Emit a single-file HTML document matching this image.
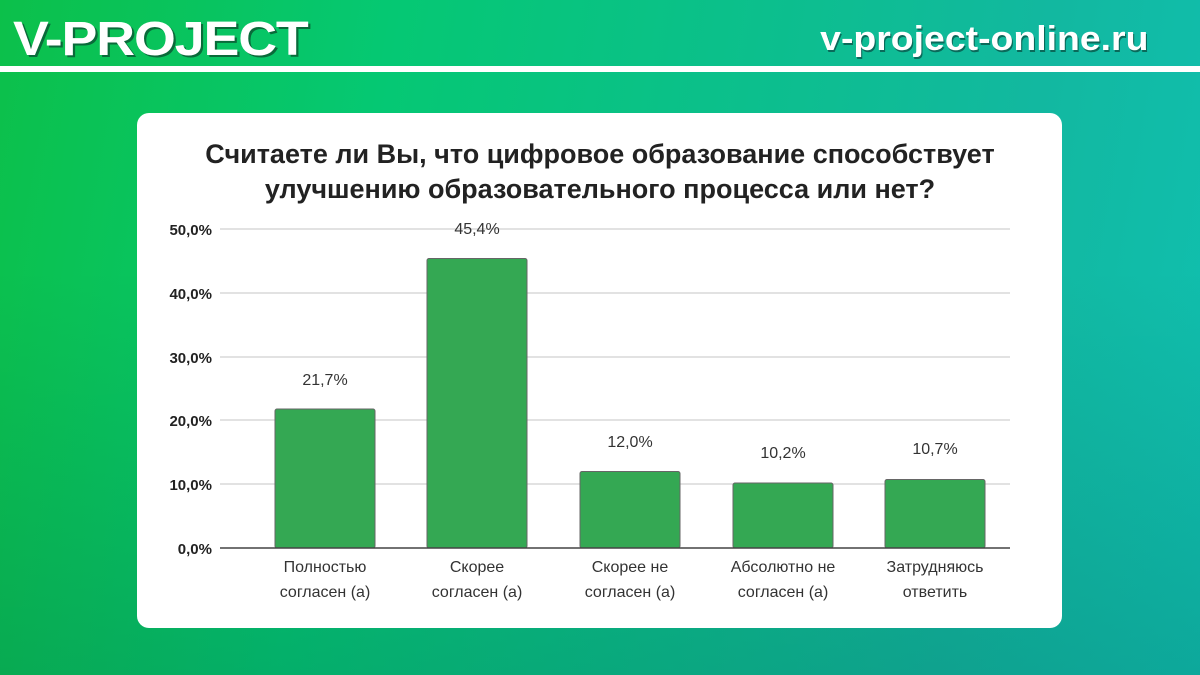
<!DOCTYPE html>
<html><head><meta charset="utf-8"><style>
body{margin:0;width:1200px;height:675px;overflow:hidden;font-family:"Liberation Sans","DejaVu Sans",sans-serif;}
.bg{position:absolute;inset:0;background:linear-gradient(100deg,#0cc04a 0%,#05c873 30%,#0bc08a 55%,#12b8a0 80%,#10c0b0 100%);}
.bg2{position:absolute;inset:0;background:linear-gradient(180deg,rgba(0,0,0,0) 40%,rgba(0,60,60,0.18) 100%);}
.line{position:absolute;left:0;top:66px;width:1200px;height:6px;background:#fff;}
.logo{position:absolute;left:13px;top:12px;font-size:48px;font-weight:bold;color:#fff;letter-spacing:-1px;text-shadow:2px 2px 0 #0a6a3a;transform:scaleX(1.12);transform-origin:left;}
.url{position:absolute;right:52px;top:20px;font-size:34px;font-weight:bold;color:#fff;text-shadow:1px 2px 0 #0a6a5a;transform:scaleX(1.1);transform-origin:right;}
.card{position:absolute;left:137px;top:113px;width:925px;height:515px;background:#fff;border-radius:12px;}
</style></head><body>
<div class="bg"></div><div class="bg2"></div>
<div class="line"></div>
<div class="logo">V-PROJECT</div>
<div class="url">v-project-online.ru</div>
<div class="card"></div>
<svg width="1200" height="675" style="position:absolute;left:0;top:0" font-family="Liberation Sans, DejaVu Sans, sans-serif">
<text x="600" y="163" text-anchor="middle" font-size="27" font-weight="bold" fill="#222">Считаете ли Вы, что цифровое образование способствует</text>
<text x="600" y="198" text-anchor="middle" font-size="27" font-weight="bold" fill="#222">улучшению образовательного процесса или нет?</text>
<g stroke="#d8d8d8" stroke-width="1.5">
<line x1="220" y1="229" x2="1010" y2="229"/><line x1="220" y1="293" x2="1010" y2="293"/>
<line x1="220" y1="357" x2="1010" y2="357"/><line x1="220" y1="420" x2="1010" y2="420"/>
<line x1="220" y1="484" x2="1010" y2="484"/></g>
<g font-size="15" fill="#222" text-anchor="end" font-weight="bold">
<text x="212" y="235">50,0%</text><text x="212" y="299">40,0%</text><text x="212" y="363">30,0%</text>
<text x="212" y="426">20,0%</text><text x="212" y="490">10,0%</text><text x="212" y="554">0,0%</text></g>
<g fill="#34a853" stroke="#666" stroke-width="1">
<rect x="275" y="409" width="100" height="139" rx="2"/>
<rect x="427" y="258.5" width="100" height="289.5" rx="2"/>
<rect x="580" y="471.5" width="100" height="76.5" rx="2"/>
<rect x="733" y="483" width="100" height="65" rx="2"/>
<rect x="885" y="479.5" width="100" height="68.5" rx="2"/></g>
<line x1="220" y1="548" x2="1010" y2="548" stroke="#444" stroke-width="1.5"/>
<g font-size="16" fill="#333" text-anchor="middle">
<text x="325" y="385">21,7%</text><text x="477" y="234">45,4%</text><text x="630" y="447">12,0%</text>
<text x="783" y="458">10,2%</text><text x="935" y="454">10,7%</text>
<text x="325" y="572">Полностью</text><text x="325" y="597">согласен (а)</text>
<text x="477" y="572">Скорее</text><text x="477" y="597">согласен (а)</text>
<text x="630" y="572">Скорее не</text><text x="630" y="597">согласен (а)</text>
<text x="783" y="572">Абсолютно не</text><text x="783" y="597">согласен (а)</text>
<text x="935" y="572">Затрудняюсь</text><text x="935" y="597">ответить</text></g>
</svg>
</body></html>
